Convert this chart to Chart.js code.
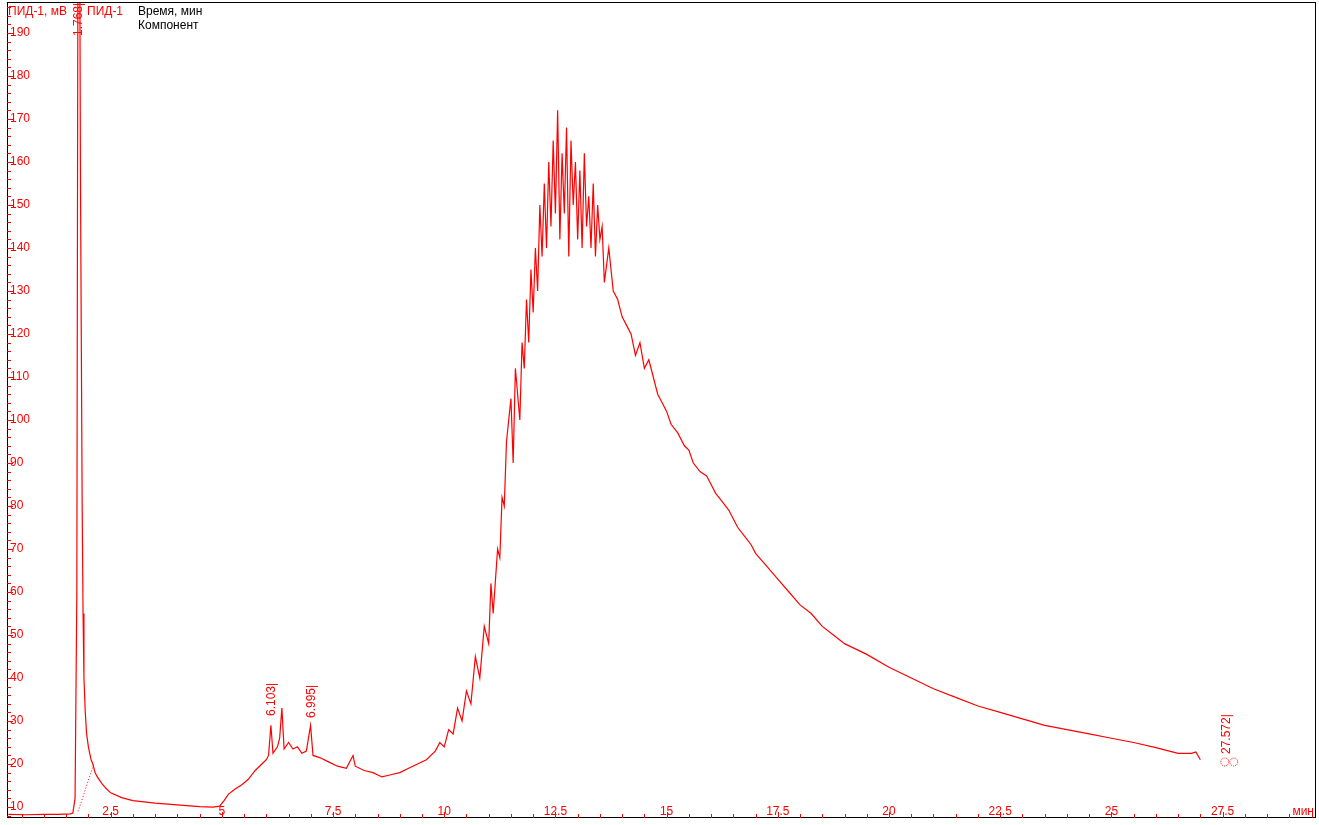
<!DOCTYPE html><html><head><meta charset="utf-8">
<script src="https://cdn.jsdelivr.net/npm/chart.js@4"></script>
<style>html,body{margin:0;padding:0;background:#fff}#w{width:1319px;height:825px}</style></head><body><div id="w"><canvas id="c"></canvas></div>
<script>
const times=[
0.2,0.6,1.0,1.3,1.6,1.65,1.7,1.74,1.76,1.77,
1.8,1.82,1.84,1.86,1.88,1.9,1.93,1.96,2.0,2.03,
2.06,2.1,2.15,2.2,2.3,2.4,2.5,2.75,3.0,3.5,
4.0,4.5,4.8,4.95,5.05,5.15,5.3,5.45,5.6,5.75,
5.9,6.0,6.05,6.103,6.15,6.25,6.3,6.35,6.4,6.5,
6.6,6.7,6.8,6.9,6.995,7.05,7.2,7.4,7.6,7.8,
7.95,8.0,8.2,8.4,8.6,8.8,9.0,9.2,9.4,9.6,
9.8,9.9,10.0,10.1,10.2,10.3,10.4,10.5,10.6,10.7,
10.8,10.9,11.0,11.05,11.1,11.2,11.25,11.3,11.35,11.4,
11.5,11.55,11.6,11.7,11.75,11.8,11.85,11.9,11.95,12.0,
12.05,12.1,12.15,12.2,12.25,12.3,12.35,12.4,12.45,12.5,
12.55,12.6,12.65,12.7,12.75,12.8,12.85,12.9,12.95,13.0,
13.05,13.1,13.15,13.2,13.25,13.3,13.35,13.4,13.45,13.5,
13.55,13.6,13.7,13.8,13.9,14.0,14.1,14.2,14.3,14.4,
14.5,14.6,14.7,14.8,14.9,15.0,15.1,15.25,15.4,15.5,
15.6,15.75,15.9,16.0,16.1,16.25,16.4,16.5,16.6,16.75,
16.9,17.0,17.25,17.5,17.75,18.0,18.25,18.5,18.75,19.0,
19.5,20.0,20.5,21.0,21.5,22.0,22.5,23.0,23.5,24.0,
24.5,25.0,25.5,26.0,26.5,26.8,26.9,27.0];
const signal=[
8.3,8.2,8.3,8.3,8.4,8.6,12,60,180,230,
230,160,120,80,55,40,32,27,24,22.5,
21,20,18,17,15.5,14.3,13.3,12.2,11.5,10.9,
10.5,10.1,10.0,10.2,11.5,13,14.2,15.2,16.5,18.5,
20,21,22,29,22.5,24,26,33,23.5,25,
23.5,24,22.5,23,29,22,21.5,20.5,19.5,19,
22,19.5,18.5,18,17,17.5,18,19,20,21,
23,25,24,28,27,33,30,37,34,45,
40,52,48,62,55,70,68,82,80,95,
105,90,112,100,118,112,128,118,135,125,
140,130,150,138,155,140,160,145,165,148,
172,142,162,148,168,138,165,150,160,142,
158,140,162,145,152,140,155,138,150,142,
145,132,140,130,128,124,122,120,115,118,
112,114,110,106,104,102,99,97,94,93,
90,88,87,85,83,81,79,77,75,73,
71,69,66,63,60,57,55,52,50,48,
45.5,42.5,40,37.5,35.5,33.5,32,30.5,29,28,
27,26,25,23.8,22.5,22.5,22.8,21];
const baseT=[1.77,2.12];const baseV=[9,20];
const peakT=[1.768,6.103,6.995,27.572];const peakLabels=['1.768','6.103','6.995','27.572'];
const yTicks=[10,20,30,40,50,60,70,80,90,100,110,120,130,140,150,160,170,180,190];
const xTicks=[2.5,5,7.5,10,12.5,15,17.5,20,22.5,25,27.5];
const RED='#ff0000';
const FONT='12px "Liberation Sans", Arial, sans-serif';
const deco={id:'deco',afterDraw(ch){const c=ch.ctx,x=ch.scales.x,y=ch.scales.y,a=ch.chartArea;c.save();
c.strokeStyle='#000';c.lineWidth=1;c.strokeRect(a.left+0.5,a.top+0.5,a.right-a.left-1,a.bottom-a.top-1);
c.strokeStyle=RED;c.fillStyle=RED;c.font=FONT;
c.beginPath();for(let v=8;v<=196;v+=2){const py=Math.round(y.getPixelForValue(v))+0.5;const L=(v%10===0)?6:4;c.moveTo(a.left,py);c.lineTo(a.left+L,py);}c.stroke();
c.textBaseline='middle';c.textAlign='left';yTicks.forEach(v=>c.fillText(String(v),a.left+3,y.getPixelForValue(v)));
c.beginPath();for(let t=0.5;t<=29.5;t+=0.5){const px=Math.round(x.getPixelForValue(t))+0.5;const L=(Math.abs(t%2.5)<1e-6)?6:4;c.moveTo(px,a.bottom);c.lineTo(px,a.bottom-L);}c.stroke();
c.textAlign='center';c.textBaseline='alphabetic';xTicks.forEach(t=>c.fillText(String(t),x.getPixelForValue(t),a.bottom-3));
c.textAlign='right';c.fillText('мин',a.right-2,a.bottom-3);
c.textAlign='left';c.fillText('ПИД-1, мВ',8,15);c.fillText('ПИД-1',87,15);
c.fillStyle='#000';c.fillText('Время, мин',138,15);c.fillText('Компонент',138,29);
c.fillStyle=RED;
peakT.forEach((t,i)=>{const px=x.getPixelForValue(t);const base=[36,716,718,754][i];
 c.save();c.translate(px+4,base);c.rotate(-Math.PI/2);c.textAlign='left';c.textBaseline='alphabetic';c.fillText(peakLabels[i]+'|',0,0);c.restore();});
const px=x.getPixelForValue(27.572);c.lineWidth=1;c.setLineDash([1,1]);
[px-1,px+8].forEach(cx=>{c.beginPath();c.arc(cx,762,4,0,Math.PI*2);c.stroke();});
c.restore();}};
new Chart(document.getElementById('c'),{type:'line',
data:{datasets:[{data:times.map((t,i)=>({x:t,y:signal[i]})),borderColor:RED,borderWidth:1.2,pointRadius:0,tension:0},
{data:baseT.map((t,i)=>({x:t,y:baseV[i]})),borderColor:RED,borderWidth:1,borderDash:[1,2],pointRadius:0}]},
options:{responsive:true,maintainAspectRatio:false,animation:false,events:[],
layout:{padding:{left:7,right:3,top:2,bottom:7}},
plugins:{legend:{display:false},tooltip:{enabled:false}},
scales:{x:{type:'linear',min:0.17,max:29.6,display:false},y:{min:7.45,max:197.2,display:false}}},
plugins:[deco]});
</script></body></html>
